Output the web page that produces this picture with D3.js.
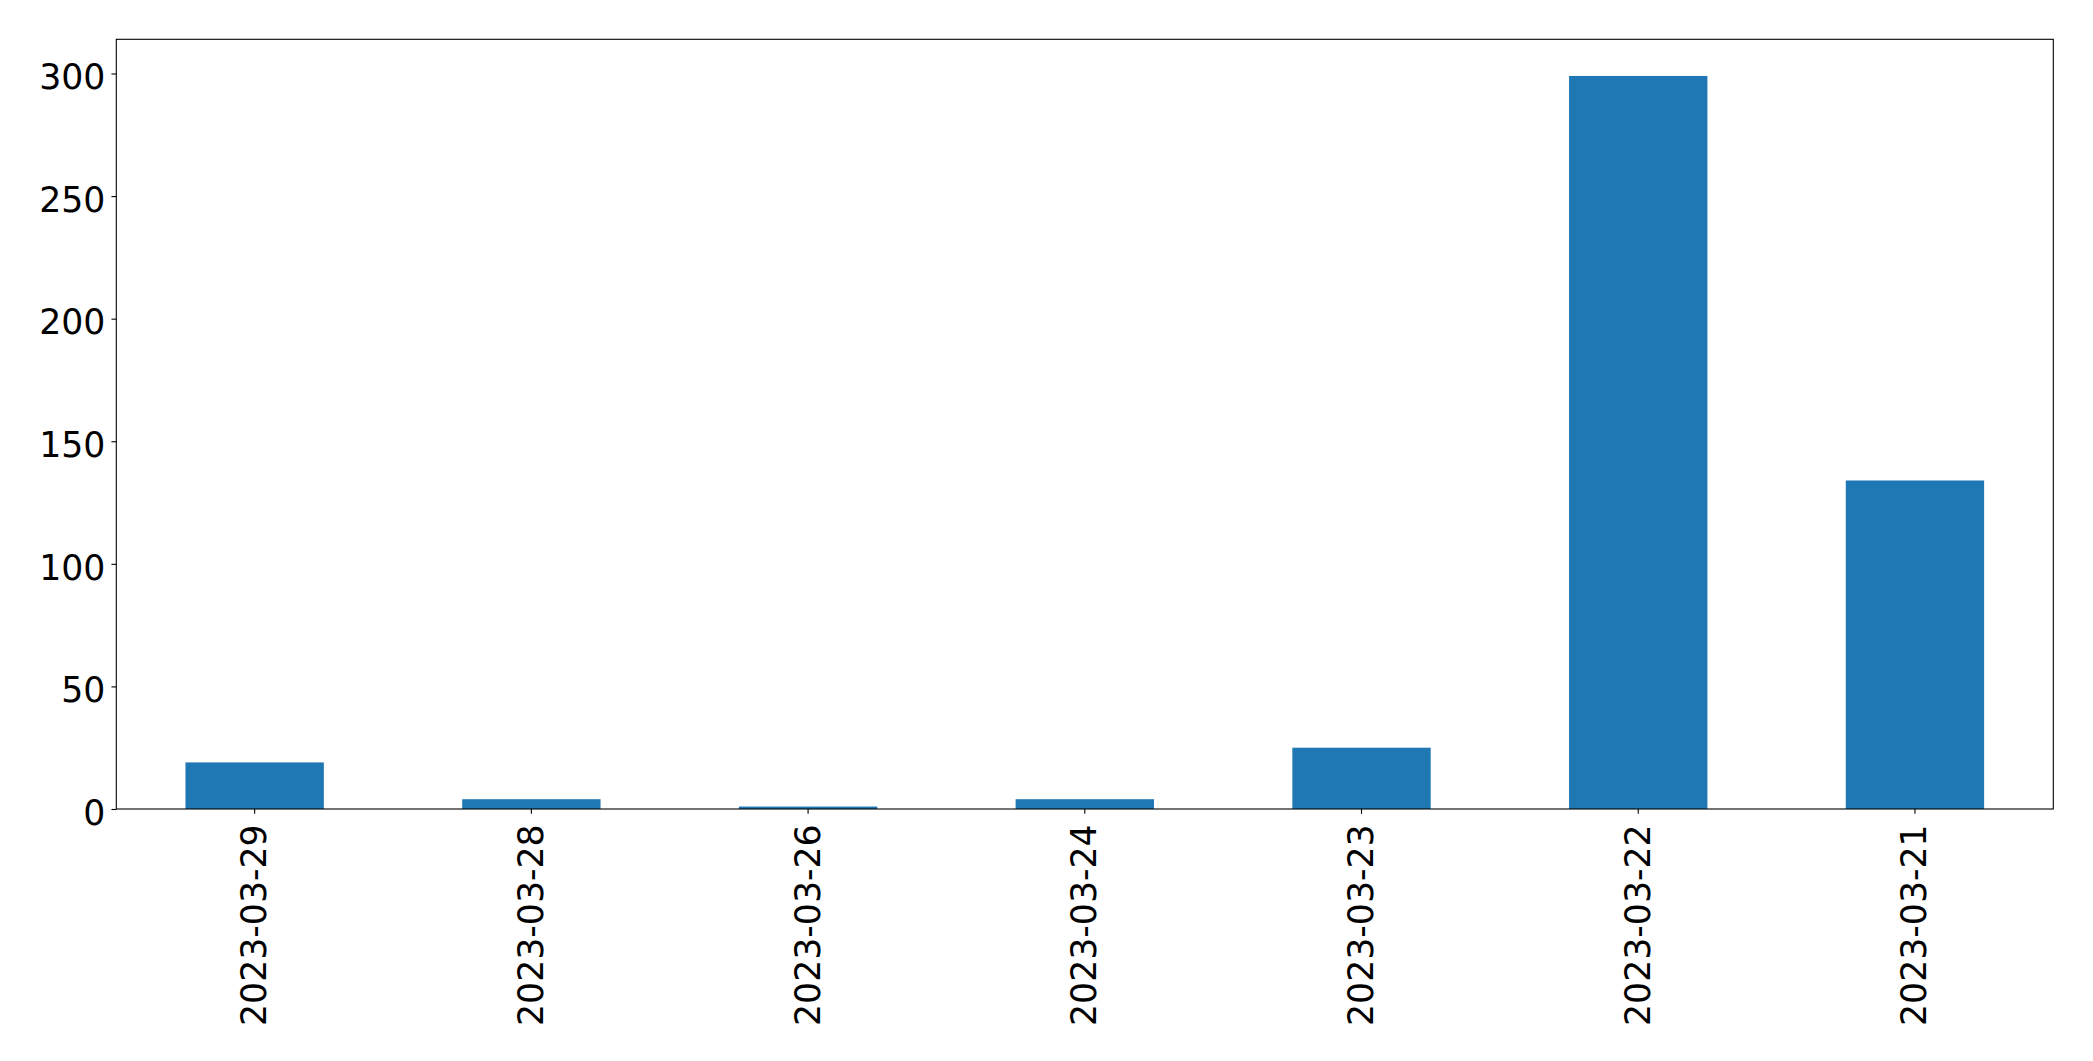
<!DOCTYPE html>
<html>
<head>
<meta charset="utf-8">
<script src="https://cdn.jsdelivr.net/npm/d3@7"></script>
<style>
  html, body { margin: 0; padding: 0; background: #fff; }
  svg { display: block; }
</style>
</head>
<body>
<div id="chart"></div>
<script>
const categories = ["2023-03-29", "2023-03-28", "2023-03-26", "2023-03-24", "2023-03-23", "2023-03-22", "2023-03-21"];
const values = [19, 4, 1, 4, 25, 299, 134];
const yTicks = [0, 50, 100, 150, 200, 250, 300];

const W = 2093, H = 1061;
const margin = { left: 116.3, right: W - 2053.3, top: 39.3, bottom: H - 809 };
const fontSize = 34.7;

const svg = d3.select("#chart").append("svg")
  .attr("width", W).attr("height", H)
  .style("background", "#fff");

const x = d3.scaleBand()
  .domain(categories)
  .range([margin.left, W - margin.right])
  .paddingInner(0.5)
  .paddingOuter(0.25);

const yMax = d3.max(values) * 1.05;
const y = d3.scaleLinear()
  .domain([0, yMax])
  .range([H - margin.bottom, margin.top]);

// bars
svg.append("g")
  .selectAll("rect")
  .data(values)
  .join("rect")
  .attr("x", (d, i) => x(categories[i]))
  .attr("width", x.bandwidth())
  .attr("y", d => y(d))
  .attr("height", d => y(0) - y(d))
  .attr("fill", "#1f77b4");

// y axis
const yAxis = svg.append("g")
  .attr("transform", `translate(${margin.left},0)`)
  .call(d3.axisLeft(y).tickValues(yTicks).tickFormat(d3.format("d")).tickSize(4.86).tickPadding(6));
yAxis.select(".domain").remove();
yAxis.selectAll(".tick line").attr("stroke", "#000").attr("stroke-width", 1.1);
yAxis.selectAll(".tick text")
  .attr("fill", "#000")
  .attr("font-family", "DejaVu Sans")
  .attr("font-size", fontSize)
  .attr("dy", "0.44em");

// x axis
const xAxis = svg.append("g")
  .attr("transform", `translate(0,${H - margin.bottom})`)
  .call(d3.axisBottom(x).tickSize(4.86).tickPadding(0));
xAxis.select(".domain").remove();
xAxis.selectAll(".tick line").attr("stroke", "#000").attr("stroke-width", 1.1);
xAxis.selectAll(".tick text")
  .attr("fill", "#000")
  .attr("font-family", "DejaVu Sans")
  .attr("font-size", fontSize)
  .attr("transform", "rotate(-90)")
  .attr("text-anchor", "end")
  .attr("x", -15.4)
  .attr("y", 0)
  .attr("dy", "0.33em");

// frame (spines)
svg.append("rect")
  .attr("x", margin.left)
  .attr("y", margin.top)
  .attr("width", W - margin.left - margin.right)
  .attr("height", H - margin.top - margin.bottom)
  .attr("fill", "none")
  .attr("stroke", "#000")
  .attr("stroke-width", 1.1);
</script>
</body>
</html>
